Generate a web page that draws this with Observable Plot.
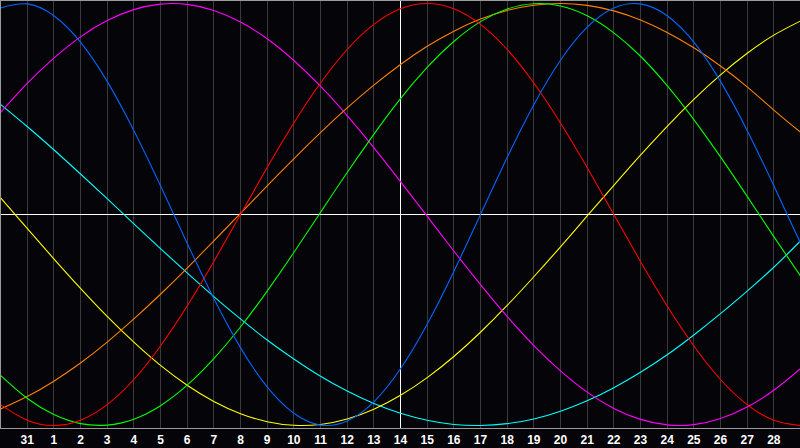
<!DOCTYPE html>
<html>
<head>
<meta charset="utf-8">
<script src="https://cdn.jsdelivr.net/npm/d3@7"></script>
<script src="https://cdn.jsdelivr.net/npm/@observablehq/plot@0.6"></script>
<style>
  html, body { margin: 0; padding: 0; background: #050408; }
  #chart { width: 800px; height: 448px; overflow: hidden; }
</style>
</head>
<body>
<div id="chart"></div>
<script>
// Day labels for day-index 0..30 (Jan 30 .. Mar 1); index 15 = "today" (14)
const dayLabels = ["30","31","1","2","3","4","5","6","7","8","9","10","11","12","13","14","15","16","17","18","19","20","21","22","23","24","25","26","27","28","1"];
const labeledDays = d3.range(1, 30);
const todayIndex = 15;

// Values at each day index 0..30
const blue    = [0.979,0.998,0.942,0.817,0.631,0.398,0.136,-0.136,-0.398,-0.631,-0.817,-0.942,-0.998,-0.979,-0.888,-0.731,-0.520,-0.270,0.000,0.270,0.520,0.731,0.888,0.979,0.998,0.942,0.817,0.631,0.398,0.136,-0.136];
const red     = [-0.901,-0.975,-1.000,-0.975,-0.901,-0.782,-0.623,-0.434,-0.223,0.000,0.223,0.434,0.623,0.782,0.901,0.975,1.000,0.975,0.901,0.782,0.623,0.434,0.223,0.000,-0.223,-0.434,-0.623,-0.782,-0.901,-0.975,-1.000];
const green   = [-0.762,-0.871,-0.948,-0.991,-0.998,-0.970,-0.906,-0.809,-0.683,-0.533,-0.363,-0.180,0.010,0.199,0.380,0.549,0.697,0.820,0.914,0.974,0.999,0.988,0.942,0.861,0.750,0.611,0.450,0.273,0.086,-0.105,-0.291];
const magenta = [0.483,0.621,0.741,0.842,0.919,0.971,0.997,0.996,0.967,0.912,0.833,0.730,0.608,0.469,0.317,0.156,-0.008,-0.173,-0.332,-0.483,-0.621,-0.741,-0.842,-0.919,-0.971,-0.997,-0.996,-0.967,-0.912,-0.833,-0.730];
const yellow  = [0.080,-0.066,-0.210,-0.350,-0.483,-0.605,-0.715,-0.809,-0.886,-0.944,-0.982,-0.999,-0.995,-0.969,-0.923,-0.857,-0.773,-0.673,-0.558,-0.431,-0.295,-0.153,-0.007,0.138,0.281,0.418,0.546,0.662,0.764,0.850,0.917];
const orange  = [-0.922,-0.863,-0.790,-0.704,-0.605,-0.495,-0.378,-0.254,-0.125,0.005,0.136,0.264,0.388,0.505,0.613,0.711,0.797,0.869,0.926,0.967,0.992,1.000,0.991,0.965,0.922,0.863,0.790,0.704,0.605,0.495,0.390];
const cyan    = [0.522,0.417,0.307,0.192,0.075,-0.044,-0.162,-0.277,-0.389,-0.495,-0.595,-0.685,-0.767,-0.837,-0.896,-0.942,-0.975,-0.995,-1.000,-0.991,-0.969,-0.932,-0.883,-0.821,-0.748,-0.665,-0.571,-0.470,-0.363,-0.250,-0.125];

const seriesList = [
  {name: "cyan", values: cyan, color: "#00ffff"},
  {name: "yellow", values: yellow, color: "#ffff00"},
  {name: "magenta", values: magenta, color: "#ff00ff"},
  {name: "orange", values: orange, color: "#ff8000"},
  {name: "green", values: green, color: "#00ff00"},
  {name: "red", values: red, color: "#ff0000"},
  {name: "blue", values: blue, color: "#0066ff"}
];

const gridDays = labeledDays.filter(d => d !== todayIndex);

const lineMarks = seriesList.map(s =>
  Plot.line(s.values.map((v, i) => ({t: i, v})), {
    x: "t", y: "v", stroke: s.color, strokeWidth: 1.1, curve: "natural"
  })
);

const chart = Plot.plot({
  width: 800,
  height: 448,
  marginTop: 0,
  marginRight: 0,
  marginBottom: 20,
  marginLeft: 0,
  style: {background: "#050408", overflow: "visible"},
  x: {domain: [0, 30], axis: null, label: null},
  y: {domain: [-1.0142, 1.0142], axis: null, label: null},
  marks: [
    Plot.ruleX(gridDays, {stroke: "#3a3a3a", strokeWidth: 1, shapeRendering: "crispEdges"}),
    Plot.ruleY([0], {stroke: "#ffffff", strokeWidth: 1, shapeRendering: "crispEdges"}),
    Plot.ruleX([todayIndex], {stroke: "#ffffff", strokeWidth: 1, shapeRendering: "crispEdges"}),
    ...lineMarks,
    Plot.frame({stroke: "#9a9a9a", strokeWidth: 1, shapeRendering: "crispEdges"}),
    Plot.axisX(labeledDays, {
      label: null,
      tickSize: 0,
      tickPadding: 7,
      tickFormat: i => dayLabels[i],
      fill: "#ffffff",
      fontSize: 12,
      fontWeight: "bold",
      fontFamily: "Liberation Sans, Arial, sans-serif"
    })
  ]
});
document.getElementById("chart").appendChild(chart);
</script>
</body>
</html>
